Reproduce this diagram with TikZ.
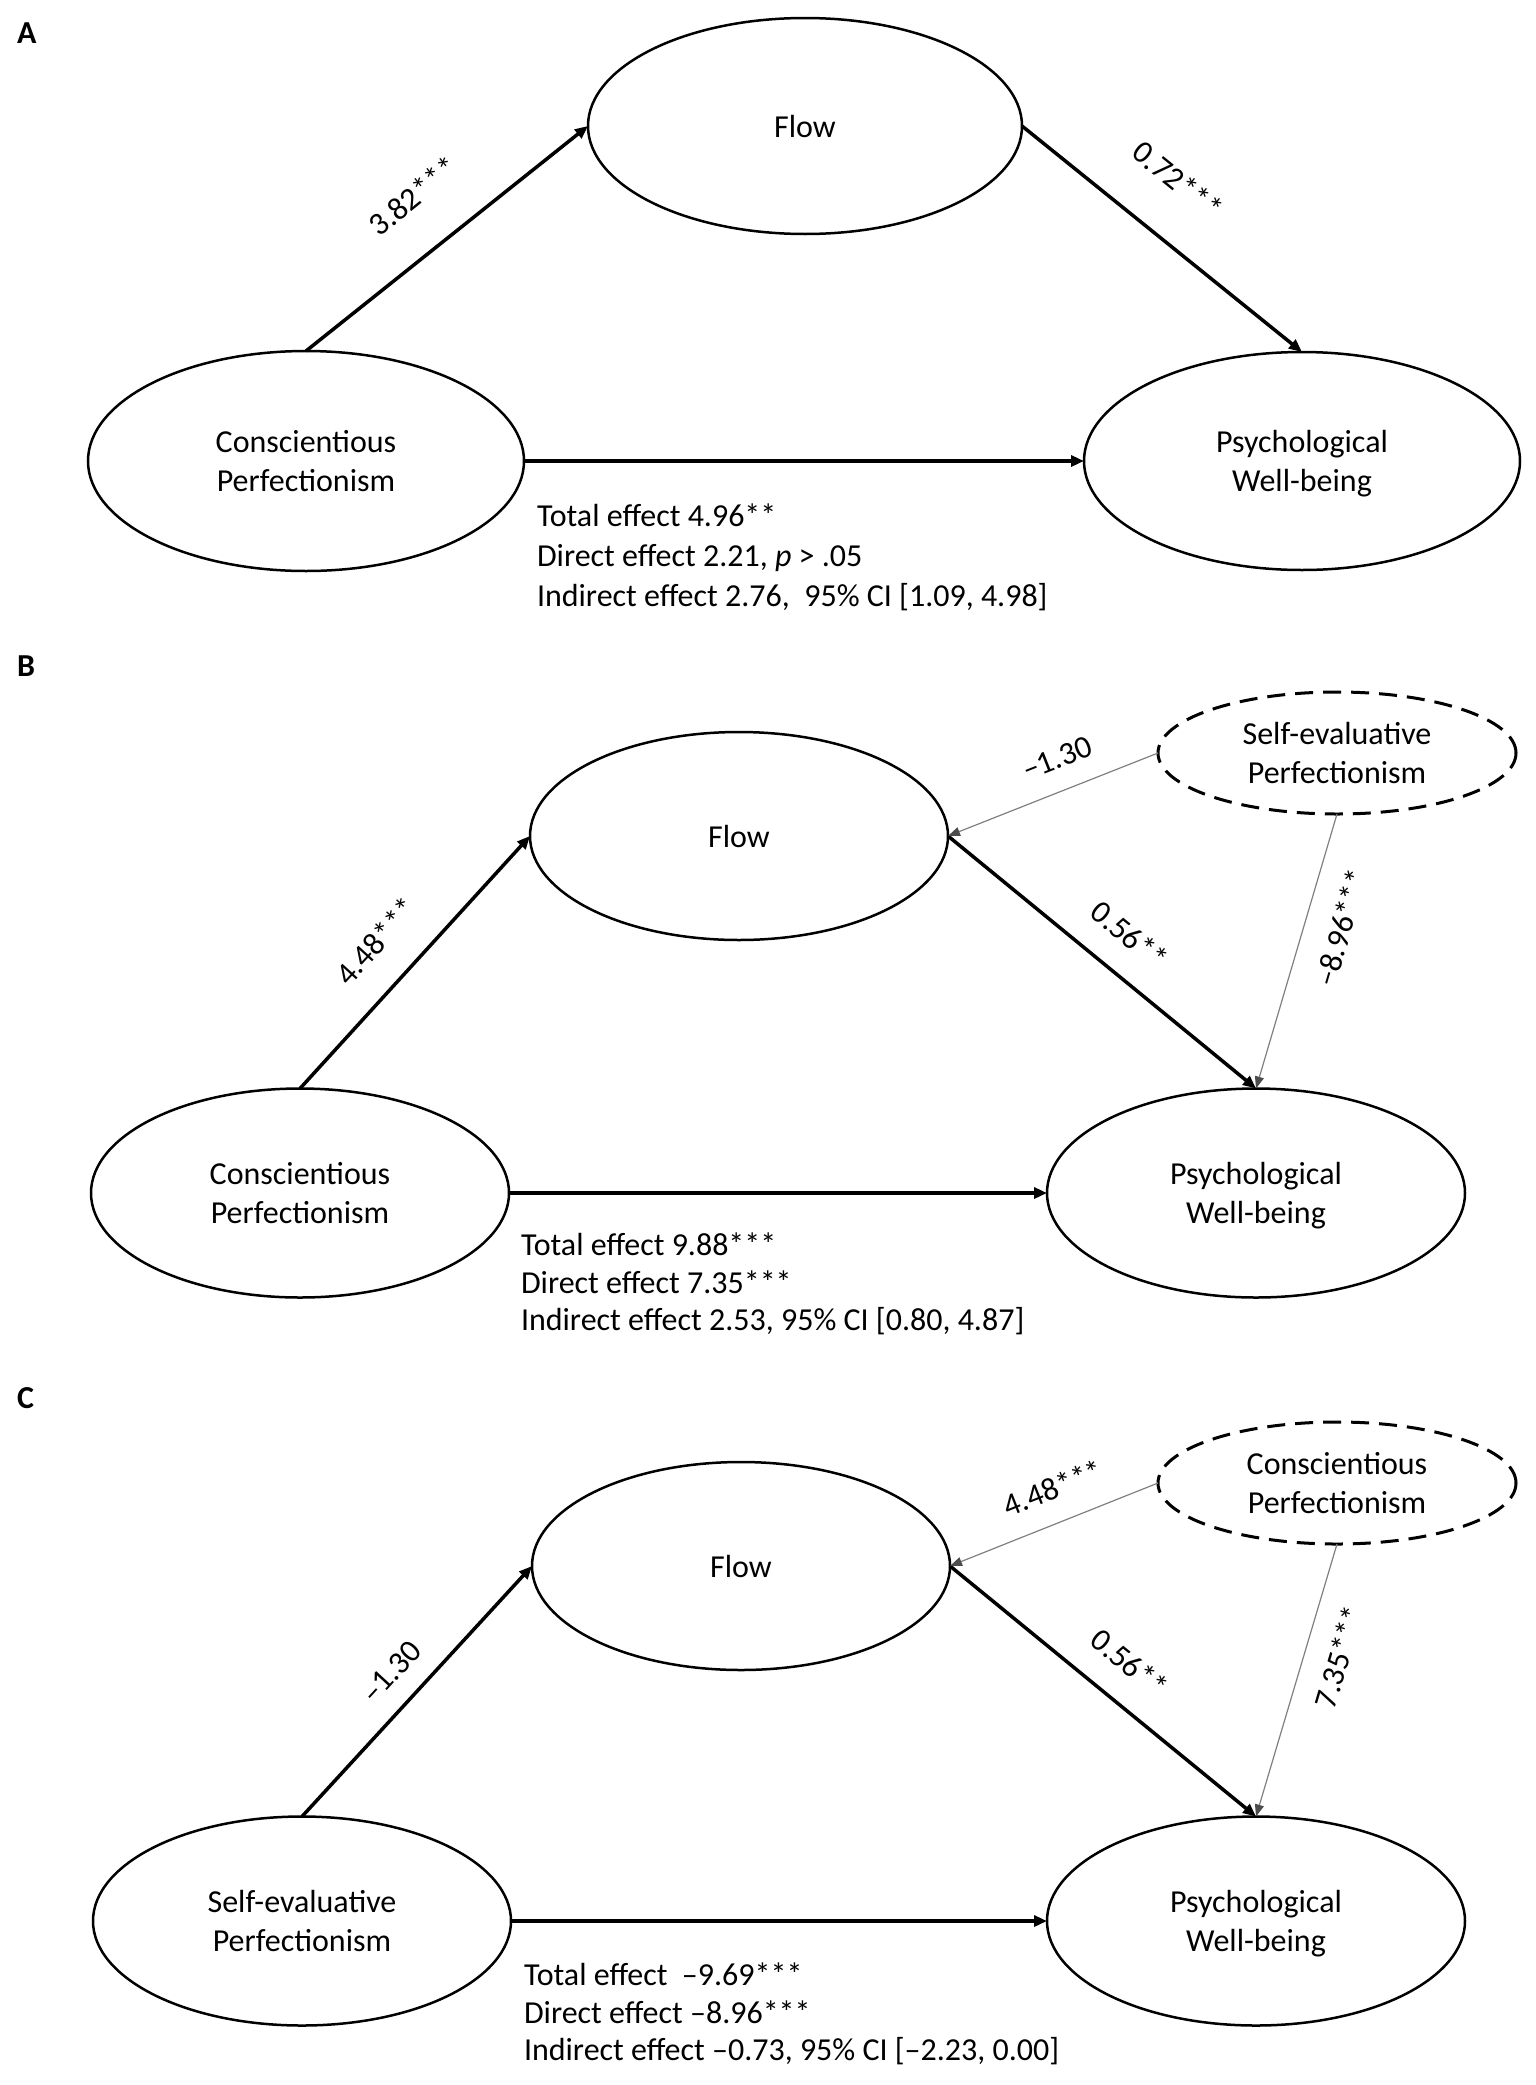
\documentclass[tikz,border=0pt]{standalone}
\usepackage{fontspec}
\setmainfont{Carlito}
\usetikzlibrary{shapes.geometric,arrows.meta}
\definecolor{thingray}{RGB}{128,128,128}
\begin{document}
\begin{tikzpicture}[x=1pt,y=-1pt,
  every node/.style={inner sep=0pt, outer sep=0pt},
  var/.style={ellipse, draw=black, line width=2.5pt, fill=white, align=center,
    font=\fontsize{32}{39}\selectfont},
  bigvar/.style={var, minimum width=436pt, minimum height=218pt},
  smallvar/.style={var, minimum width=418pt, minimum height=209pt},
  modvar/.style={var, dash pattern=on 18pt off 10pt, line width=3pt,
    minimum width=358pt, minimum height=122pt},
  patharrow/.style={line width=3.5pt, -{Triangle[length=13pt,width=11pt]}},
  modarrow/.style={line width=1.2pt, draw=thingray, -{Triangle[length=12pt,width=9pt,color=black!70]}},
  coef/.style={font=\fontsize{32}{38}\selectfont},
  effects/.style={anchor=west, align=left},
  panel/.style={anchor=west, font=\fontsize{32}{36}\selectfont\bfseries}
]
\useasboundingbox[fill=white] (0,0) rectangle (1535,2085);

% ---------------- Panel A ----------------
\node[panel] (labA) at (17,33) {A};
\node[bigvar, minimum width=434pt, minimum height=216pt] (flowA) at (805,126) {Flow};
\node[bigvar, minimum height=220pt] (cpA) at (306,461) {Conscientious\\Perfectionism};
\node[bigvar] (pwbA) at (1302,461) {Psychological\\\smash{Well-being}};
\draw[patharrow] (cpA.north) -- (flowA.west);
\draw[patharrow] (flowA.east) -- (pwbA.north);
\draw[patharrow] (cpA.east) -- (pwbA.west);
\node[coef, rotate=39] (cA1) at (413,196) {3.82***};
\node[coef, rotate=-39] (cA2) at (1178,180) {0.72***};
\node[effects, font=\fontsize{32}{40}\selectfont] (effA) at (537,557)
  {Total effect 4.96**\\Direct effect 2.21, \textit{p} > .05\\Indirect effect 2.76,\ \ 95\% CI [1.09, 4.98]};

% ---------------- Panel B ----------------
\node[panel] (labB) at (17,666) {B};
\node[smallvar, minimum height=208pt] (flowB) at (739,836) {Flow};
\node[smallvar] (cpB) at (300,1193) {Conscientious\\Perfectionism};
\node[smallvar] (pwbB) at (1256,1193) {Psychological\\\smash{Well-being}};
\node[modvar] (seB) at (1337,753) {Self-evaluative\\Perfectionism};
\draw[patharrow] (cpB.north) -- (flowB.west);
\draw[patharrow] (flowB.east) -- (pwbB.north);
\draw[patharrow] (cpB.east) -- (pwbB.west);
\draw[modarrow] (seB.west) -- (flowB.east);
\draw[modarrow] (seB.south) -- (pwbB.north);
\node[coef, rotate=47.6] (cB1) at (376,941) {4.48***};
\node[coef, rotate=-39] (cB2) at (1130,935) {0.56**};
\node[coef, rotate=21.6] (cB3) at (1057,758) {–1.30};
\node[coef, rotate=73.5] (cB4) at (1341,928) {–8.96***};
\node[effects, font=\fontsize{32}{37.5}\selectfont] (effB) at (521,1284)
  {Total effect 9.88***\\Direct effect 7.35***\\Indirect effect 2.53, 95\% CI [0.80, 4.87]};

% ---------------- Panel C ----------------
\node[panel] (labC) at (17,1398) {C};
\node[smallvar, minimum height=208pt] (flowC) at (741,1566) {Flow};
\node[smallvar] (seC) at (302,1921) {Self-evaluative\\Perfectionism};
\node[smallvar] (pwbC) at (1256,1921) {Psychological\\\smash{Well-being}};
\node[modvar] (cpC) at (1337,1483) {Conscientious\\Perfectionism};
\draw[patharrow] (seC.north) -- (flowC.west);
\draw[patharrow] (flowC.east) -- (pwbC.north);
\draw[patharrow] (seC.east) -- (pwbC.west);
\draw[modarrow] (cpC.west) -- (flowC.east);
\draw[modarrow] (cpC.south) -- (pwbC.north);
\node[coef, rotate=47.5] (cC1) at (391,1672) {–1.30};
\node[coef, rotate=21.6] (cC2) at (1053,1488) {4.48***};
\node[coef, rotate=-39] (cC3) at (1130,1663) {0.56**};
\node[coef, rotate=73.5] (cC4) at (1339,1657) {7.35***};
\node[effects, font=\fontsize{32}{37.5}\selectfont] (effC) at (524,2014)
  {Total effect\ \ –9.69***\\Direct effect –8.96***\\Indirect effect –0.73, 95\% CI [–2.23, 0.00]};
\end{tikzpicture}
\end{document}
